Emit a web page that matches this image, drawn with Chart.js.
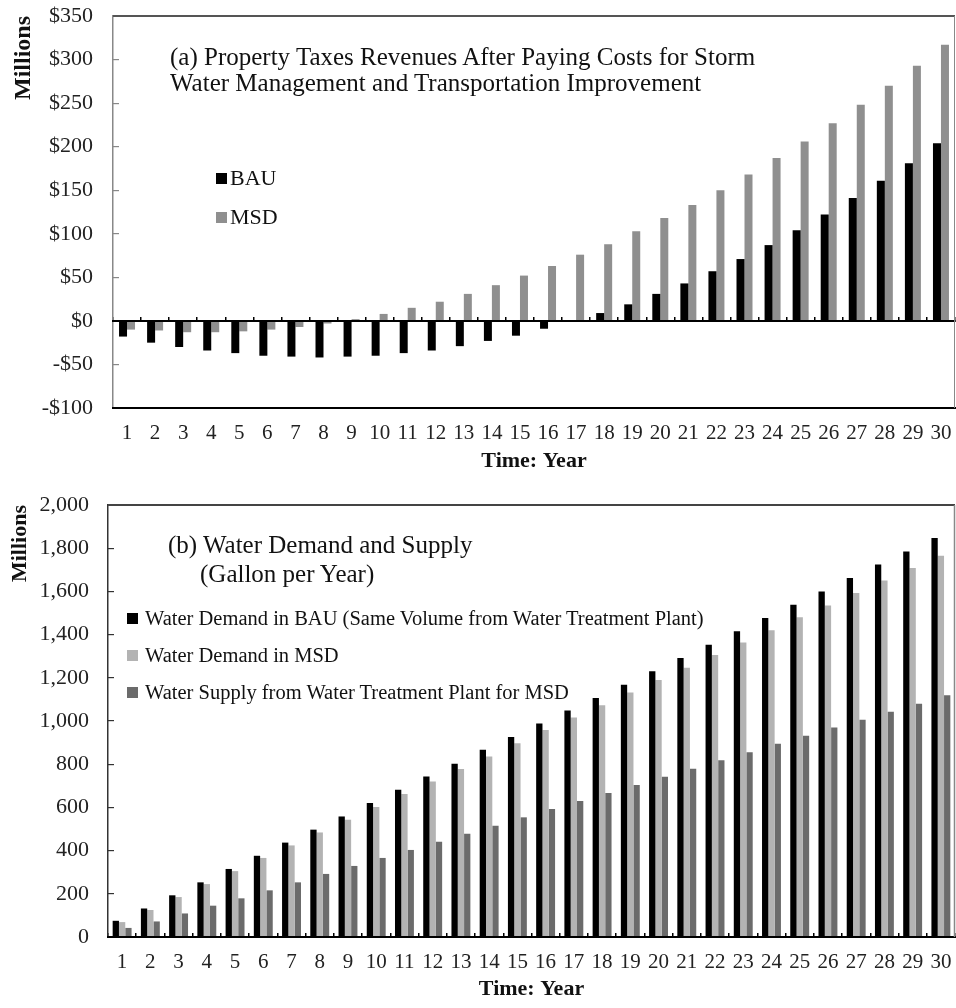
<!DOCTYPE html>
<html>
<head>
<meta charset="utf-8">
<script src="https://cdn.jsdelivr.net/npm/chart.js@4.4.1/dist/chart.umd.min.js"></script>
<style>
  body { margin: 0; background: #fff; }
  #wrap { position: relative; width: 956px; height: 1008px; overflow: hidden;
          font-family: 'Liberation Serif', 'Times New Roman', serif; color: #111; }
  .box { position: absolute; }
  .txt { position: absolute; white-space: nowrap; }
  .lg { position: absolute; display: flex; align-items: center; white-space: nowrap; }
  .sw { display: inline-block; flex: none; }
</style>
</head>
<body>
<div id="wrap">
  <div class="box" style="left:0;top:0;width:956px;height:475px"><canvas id="c1"></canvas></div>
  <div class="box" style="left:0;top:475px;width:956px;height:533px"><canvas id="c2"></canvas></div>
  <div class="txt" style="left:170px;top:44px;font-size:25px;line-height:26px">(a) Property Taxes Revenues After Paying Costs for Storm<br>Water Management and Transportation Improvement</div>
  <div class="txt" style="left:168px;top:530px;font-size:25px;line-height:29px">(b) Water Demand and Supply</div>
  <div class="txt" style="left:200px;top:559px;font-size:25px;line-height:29px">(Gallon per Year)</div>
</div>
<script>
// ---------- data ----------
const years = ["1","2","3","4","5","6","7","8","9","10","11","12","13","14","15",
               "16","17","18","19","20","21","22","23","24","25","26","27","28","29","30"];

// (a) Property tax revenues after costs, $ millions
const revenueBAU = [-18,-25,-30,-34,-37,-40,-41,-42,-41,-40,-37,-34,-29,-23,-17,
                    -9,0,9,19,31,43,57,71,87,104,122,141,161,181,204];
const revenueMSD = [-10,-11,-13,-13,-12,-10,-7,-3,2,8,15,22,31,41,52,
                    63,76,88,103,118,133,150,168,187,206,227,248,270,293,317];

// (b) Water demand and supply, millions of gallons per year
const demandBAU = [75,132,193,253,315,376,437,497,558,620,682,743,802,867,926,
                   988,1049,1106,1168,1230,1292,1353,1415,1477,1538,1600,1662,1724,1785,1847];
const demandMSD = [69,125,185,245,305,366,424,484,543,602,662,720,778,836,897,
                   958,1016,1073,1132,1190,1247,1305,1364,1420,1480,1535,1593,1651,1708,1765];
const supplyMSD = [42,72,109,145,179,216,253,292,329,366,403,441,478,515,554,
                   593,630,667,704,742,779,818,855,895,932,970,1006,1043,1080,1119];

// tick values
const revenueTicks = [-100,-50,0,50,100,150,200,250,300,350];
const waterTicks = [0,200,400,600,800,1000,1200,1400,1600,1800,2000];

const labelsA = ["BAU","MSD"];
const labelsB = ["Water Demand in BAU (Same Volume from Water Treatment Plant)",
                 "Water Demand in MSD",
                 "Water Supply from Water Treatment Plant for MSD"];

// ---------- styling ----------
const serif = "'Liberation Serif','Times New Roman',serif";
const colA = ["#000000", "#8f8f8f"];
const colB = ["#000000", "#b3b3b3", "#6b6b6b"];

const framePlugin = {
  id: 'frame',
  afterDraw(chart, args, o) {
    const { ctx, chartArea: a } = chart;
    ctx.save();
    ctx.strokeStyle = o.topColor; ctx.lineWidth = o.topWidth;
    ctx.beginPath(); ctx.moveTo(a.left, a.top); ctx.lineTo(a.right, a.top); ctx.stroke();
    ctx.strokeStyle = o.rightColor; ctx.lineWidth = o.rightWidth;
    ctx.beginPath(); ctx.moveTo(a.right - 0.5, a.top); ctx.lineTo(a.right - 0.5, a.bottom); ctx.stroke();
    ctx.restore();
  }
};

function makeScales(cfg) {
  return {
    x: {
      type: 'category', position: 'bottom', offset: true,
      grid: { display: false, drawTicks: true, tickLength: 12.4, offset: true },
      border: { display: true, color: '#000', width: 2, z: 1 },
      ticks: { font: { family: serif, size: 21 }, color: '#222', padding: 0, maxRotation: 0, autoSkip: false },
      title: { display: true, text: 'Time: Year', font: { family: serif, size: 22, weight: 'bold' }, color: '#111', padding: { top: 0, bottom: cfg.xTitlePad } },
      afterFit: s => { s.height = cfg.xHeight; }
    },
    x0: {
      type: 'category', axis: 'x', position: { y: 0 }, offset: true,
      grid: { display: true, offset: true, drawOnChartArea: false, drawTicks: true, tickLength: -5, color: '#000', lineWidth: 1.5 },
      border: { display: true, color: '#000', width: 2, z: 1 },
      ticks: { display: false },
      afterFit: s => { s.height = 0; }
    },
    y: {
      type: 'linear', position: 'left', weight: 1,
      min: cfg.ticks[0], max: cfg.ticks[cfg.ticks.length - 1],
      afterBuildTicks: s => { s.ticks = cfg.ticks.map(v => ({ value: v })); },
      ticks: { callback: cfg.fmt, font: { family: serif, size: 22 }, color: '#222', padding: 2 },
      grid: { display: false, drawTicks: true, tickLength: cfg.labelGap },
      border: { display: true, color: cfg.axisColor, width: 1.5 },
      title: { display: true, text: 'Millions', align: 'end', font: { family: serif, size: cfg.yTitleSize, weight: 'bold' }, color: '#111', padding: { top: cfg.yTitlePad, bottom: 0 } },
      afterFit: s => { s.width = cfg.yWidth; }
    },
    yMarks: {
      type: 'linear', axis: 'y', position: 'left', weight: 0,
      min: cfg.ticks[0], max: cfg.ticks[cfg.ticks.length - 1],
      afterBuildTicks: s => { s.ticks = cfg.ticks.map(v => ({ value: v })); },
      ticks: { display: false },
      grid: { display: true, drawOnChartArea: false, drawTicks: true, tickLength: -6, color: cfg.axisColor, lineWidth: 1.2 },
      border: { display: false },
      afterFit: s => { s.width = 0; }
    }
  };
}

// ---------- chart (a) ----------
new Chart(document.getElementById('c1'), {
  type: 'bar',
  data: {
    labels: years,
    datasets: [
      { label: labelsA[0], data: revenueBAU, backgroundColor: colA[0], xAxisID: 'x', yAxisID: 'y' },
      { label: labelsA[1], data: revenueMSD, backgroundColor: colA[1], xAxisID: 'x', yAxisID: 'y' }
    ]
  },
  options: {
    responsive: true, maintainAspectRatio: false, animation: false,
    datasets: { bar: { categoryPercentage: 0.57, barPercentage: 1 } },
    layout: { padding: { top: 16, right: 1, left: 0, bottom: 0 } },
    plugins: {
      legend: { display: false }, tooltip: { enabled: false },
      frame: { topColor: '#555', topWidth: 2, rightColor: '#888', rightWidth: 1 }
    },
    scales: makeScales({
      ticks: revenueTicks, fmt: v => (v < 0 ? '-$' : '$') + Math.abs(v),
      labelGap: 18, axisColor: '#888', yWidth: 113, yTitleSize: 24, yTitlePad: 9,
      xHeight: 67, xTitlePad: 0
    })
  },
  plugins: [framePlugin]
});

// ---------- chart (b) ----------
new Chart(document.getElementById('c2'), {
  type: 'bar',
  data: {
    labels: years,
    datasets: [
      { label: labelsB[0], data: demandBAU, backgroundColor: colB[0], xAxisID: 'x', yAxisID: 'y' },
      { label: labelsB[1], data: demandMSD, backgroundColor: colB[1], xAxisID: 'x', yAxisID: 'y' },
      { label: labelsB[2], data: supplyMSD, backgroundColor: colB[2], xAxisID: 'x', yAxisID: 'y' }
    ]
  },
  options: {
    responsive: true, maintainAspectRatio: false, animation: false,
    datasets: { bar: { categoryPercentage: 0.67, barPercentage: 1 } },
    layout: { padding: { top: 30, right: 1, left: 0, bottom: 0 } },
    plugins: {
      legend: { display: false }, tooltip: { enabled: false },
      frame: { topColor: '#444', topWidth: 2, rightColor: '#888', rightWidth: 1.5 }
    },
    scales: makeScales({
      ticks: waterTicks, fmt: v => Number(v).toLocaleString('en-US'),
      labelGap: 17, axisColor: '#333', yWidth: 108, yTitleSize: 22, yTitlePad: 7,
      xHeight: 71, xTitlePad: 5
    })
  },
  plugins: [framePlugin]
});

// ---------- legends (built from the dataset labels / colours) ----------
function addLegend(labels, colors, left, centers, fontSize, sw, gap) {
  const wrap = document.getElementById('wrap');
  labels.forEach((lab, i) => {
    const row = document.createElement('div');
    row.className = 'lg';
    const h = 30;
    row.style.left = left + 'px';
    row.style.top = (centers[i] - h / 2) + 'px';
    row.style.height = h + 'px';
    row.style.fontSize = fontSize + 'px';
    const s = document.createElement('span');
    s.className = 'sw';
    s.style.width = sw + 'px'; s.style.height = sw + 'px';
    s.style.background = colors[i];
    s.style.marginRight = gap + 'px';
    const t = document.createElement('span');
    t.textContent = lab;
    row.appendChild(s); row.appendChild(t);
    wrap.appendChild(row);
  });
}
addLegend(labelsA, colA, 216, [178, 217], 22, 11, 3);
addLegend(labelsB, colB, 127, [618, 655, 692], 20.5, 11, 7);
</script>
</body>
</html>
